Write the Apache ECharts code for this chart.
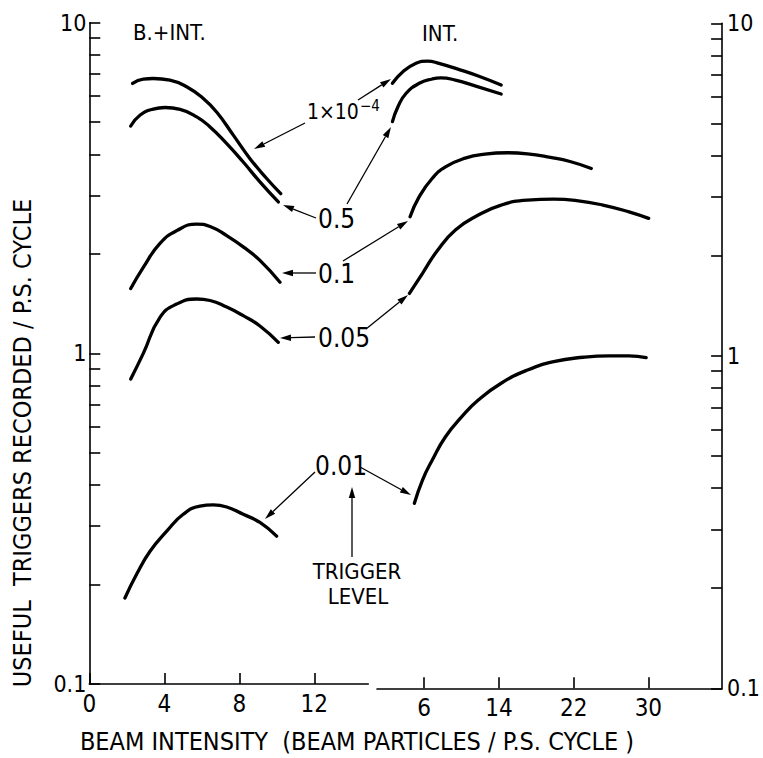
<!DOCTYPE html>
<html>
<head>
<meta charset="utf-8">
<script src="https://cdn.jsdelivr.net/npm/echarts@6/dist/echarts.min.js"></script>
<style>html,body{margin:0;padding:0;background:#fff}#c{width:763px;height:758px}</style>
</head>
<body>
<div id="c"></div>
<script>
// ---- data (x = beam intensity, y = useful triggers / P.S. cycle) ----
// Left panel: B.+INT.
const left1e4 = [[2.31,6.55],[2.88,6.75],[3.41,6.78],[4.30,6.70],[5.19,6.40],[6.08,5.90],[6.79,5.37],[7.68,4.57],[8.57,3.88],[9.46,3.38],[10.21,3.04]];
const left05  = [[2.21,4.87],[2.70,5.25],[3.41,5.48],[4.04,5.54],[4.84,5.47],[5.73,5.19],[6.44,4.84],[7.33,4.31],[8.21,3.79],[9.10,3.30],[10.08,2.87]];
const left01  = [[2.21,1.57],[2.88,1.82],[3.77,2.15],[4.66,2.35],[5.73,2.46],[6.44,2.42],[7.33,2.27],[8.21,2.10],[9.10,1.91],[10.17,1.64]];
const left005 = [[2.21,0.836],[2.88,1.0],[3.77,1.285],[4.66,1.41],[5.73,1.46],[6.44,1.445],[7.33,1.38],[8.21,1.30],[9.10,1.21],[10.08,1.08]];
const left001 = [[1.90,0.182],[2.53,0.215],[3.24,0.252],[4.13,0.290],[5.01,0.326],[5.90,0.345],[6.61,0.348],[7.33,0.343],[8.21,0.326],[9.10,0.308],[9.99,0.280]];
// Right panel: INT.
const right1e4 = [[2.60,6.60],[3.72,7.15],[5.13,7.58],[6.35,7.70],[7.58,7.58],[9.68,7.27],[11.79,6.94],[14.24,6.52]];
const right05  = [[2.60,5.06],[3.19,5.61],[4.07,6.16],[5.47,6.60],[6.87,6.80],[7.76,6.85],[9.34,6.75],[11.44,6.48],[14.24,6.13]];
const right01  = [[4.49,2.62],[5.47,3.01],[6.87,3.42],[8.28,3.70],[10.39,3.93],[12.49,4.04],[14.95,4.08],[17.05,4.05],[19.51,3.95],[21.61,3.84],[23.89,3.66]];
const right005 = [[4.42,1.54],[5.82,1.77],[7.40,2.07],[9.34,2.39],[11.79,2.65],[14.24,2.84],[17.05,2.94],[19.86,2.96],[22.32,2.93],[25.13,2.84],[27.93,2.71],[30.03,2.59]];
const right001 = [[4.95,0.360],[5.82,0.423],[6.87,0.486],[8.28,0.571],[10.03,0.656],[11.79,0.736],[14.24,0.827],[17.05,0.906],[19.86,0.960],[23.02,0.990],[25.82,1.000],[27.93,0.999],[29.76,0.987]];

const leftXTicks  = [0, 4, 8, 12];
const rightXTicks = [6, 14, 22, 30];
const yTicks = [0.1,0.2,0.3,0.4,0.5,0.6,0.7,0.8,0.9,1,2,3,4,5,6,7,8,9,10];
const yLabels = [0.1, 1, 10];

const xTitle = 'BEAM INTENSITY  (BEAM PARTICLES / P.S. CYCLE )';
const yTitle = 'USEFUL  TRIGGERS RECORDED / P.S. CYCLE';
const panelTitles = ['B.+INT.', 'INT.'];
const levelLabels = ['0.5', '0.1', '0.05', '0.01'];

// ---- chart ----
const FONT = "'Liberation Sans Narrow', 'DejaVu Sans Condensed', 'Liberation Sans', sans-serif";
const chart = echarts.init(document.getElementById('c'), null, {renderer: 'svg'});

const axisLineStyle = {color: '#000', width: 1.6};
function xAxis(grid, min, max, ticks) {
  return {
    type: 'value', gridIndex: grid, min: min, max: max,
    axisLine: {show: true, onZero: false, lineStyle: axisLineStyle},
    axisTick: {show: true, inside: true, length: 11, lineStyle: {color: '#000', width: 1.6}, customValues: ticks},
    axisLabel: {show: true, customValues: ticks, color: '#000', fontFamily: FONT, fontSize: 24, margin: 8},
    splitLine: {show: false}
  };
}
function yAxis(grid, pos) {
  return {
    type: 'log', logBase: 10, gridIndex: grid, min: 0.1, max: 10, position: pos,
    axisLine: {show: true, onZero: false, lineStyle: axisLineStyle},
    axisTick: {show: true, inside: true, length: 11, lineStyle: {color: '#000', width: 1.6}, customValues: yTicks},
    axisLabel: {show: true, customValues: yLabels, color: '#000', fontFamily: FONT, fontSize: 23, margin: pos === 'left' ? 3 : 5,
      formatter: v => (Math.abs(v - 0.1) < 1e-9 ? '0.1' : String(Math.round(v)))},
    splitLine: {show: false}, minorTick: {show: false}
  };
}

function curve(data, xi) {
  return {
    type: 'line', data: data, xAxisIndex: xi, yAxisIndex: xi,
    smooth: 0.5, showSymbol: false, symbol: 'none', silent: true,
    lineStyle: {color: '#000', width: 3.3, cap: 'round', join: 'round'}
  };
}

// arrows (annotation graphics)
function arrow(x1, y1, x2, y2) {
  const dx = x2 - x1, dy = y2 - y1, L = Math.hypot(dx, dy);
  const ux = dx / L, uy = dy / L, hl = 11, hw = 3.2;
  const bx = x2 - ux * hl, by = y2 - uy * hl;
  return [
    {type: 'line', shape: {x1: x1, y1: y1, x2: bx, y2: by}, style: {stroke: '#000', lineWidth: 1.3}, silent: true},
    {type: 'polygon', shape: {points: [[x2, y2], [bx - uy * hw, by + ux * hw], [bx + uy * hw, by - ux * hw]]}, style: {fill: '#000'}, silent: true}
  ];
}
const arrowSpecs = [
  [305,123,254,149], [358,100,391,79],
  [316,218,283,205], [347,204,391,127],
  [316,273,282,273], [343,261,408,221],
  [315,337,280,338], [366,329,408,295],
  [315,472,265,519], [360,467,411,495],
  [352,557,352,487]
];
let graphics = [];
arrowSpecs.forEach(a => { graphics = graphics.concat(arrow(a[0], a[1], a[2], a[3])); });

function txt(x, y, s, size, align) {
  return {type: 'text', x: x, y: y, silent: true,
    style: {text: s, fill: '#000', font: size + 'px ' + FONT, textAlign: align || 'left', textVerticalAlign: 'middle'}};
}
graphics.push(txt(133, 32, panelTitles[0], 22));
graphics.push(txt(422, 33, panelTitles[1], 22));
graphics.push({type: 'text', x: 307, y: 112, silent: true, style: {
  text: '1×10{s|−4}', fill: '#000', font: '21px ' + FONT, textVerticalAlign: 'middle',
  rich: {s: {fontSize: 15, fontFamily: FONT, verticalAlign: 'top', padding: [0, 0, 13, 1]}}}});
graphics.push(txt(318, 219, levelLabels[0], 26));
graphics.push(txt(318, 274, levelLabels[1], 26));
graphics.push(txt(318, 338, levelLabels[2], 26));
graphics.push(txt(315, 466, levelLabels[3], 26));
graphics.push(txt(357, 571, 'TRIGGER', 22, 'center'));
graphics.push(txt(358, 596, 'LEVEL', 22, 'center'));
graphics.push(txt(357, 741, xTitle, 25, 'center'));
graphics.push({type: 'text', x: 22, y: 443, rotation: Math.PI / 2, silent: true,
  style: {text: yTitle, fill: '#000', font: '25px ' + FONT, textAlign: 'center', textVerticalAlign: 'middle'}});

const option = {
  backgroundColor: '#fff',
  animation: false,
  grid: [
    {left: 89.3, top: 22.7, width: 279, height: 661.3, containLabel: false},
    {left: 377, top: 23.3, width: 351, height: 665, containLabel: false}
  ],
  xAxis: [xAxis(0, 0, 279 / 18.75, leftXTicks), xAxis(1, 9 / 9.5, 360 / 9.5, rightXTicks)],
  yAxis: [yAxis(0, 'left'), yAxis(1, 'right')],
  series: [
    curve(left1e4, 0), curve(left05, 0), curve(left01, 0), curve(left005, 0), curve(left001, 0),
    curve(right1e4, 1), curve(right05, 1), curve(right01, 1), curve(right005, 1), curve(right001, 1)
  ],
  graphic: graphics
};
chart.setOption(option);
</script>
</body>
</html>
